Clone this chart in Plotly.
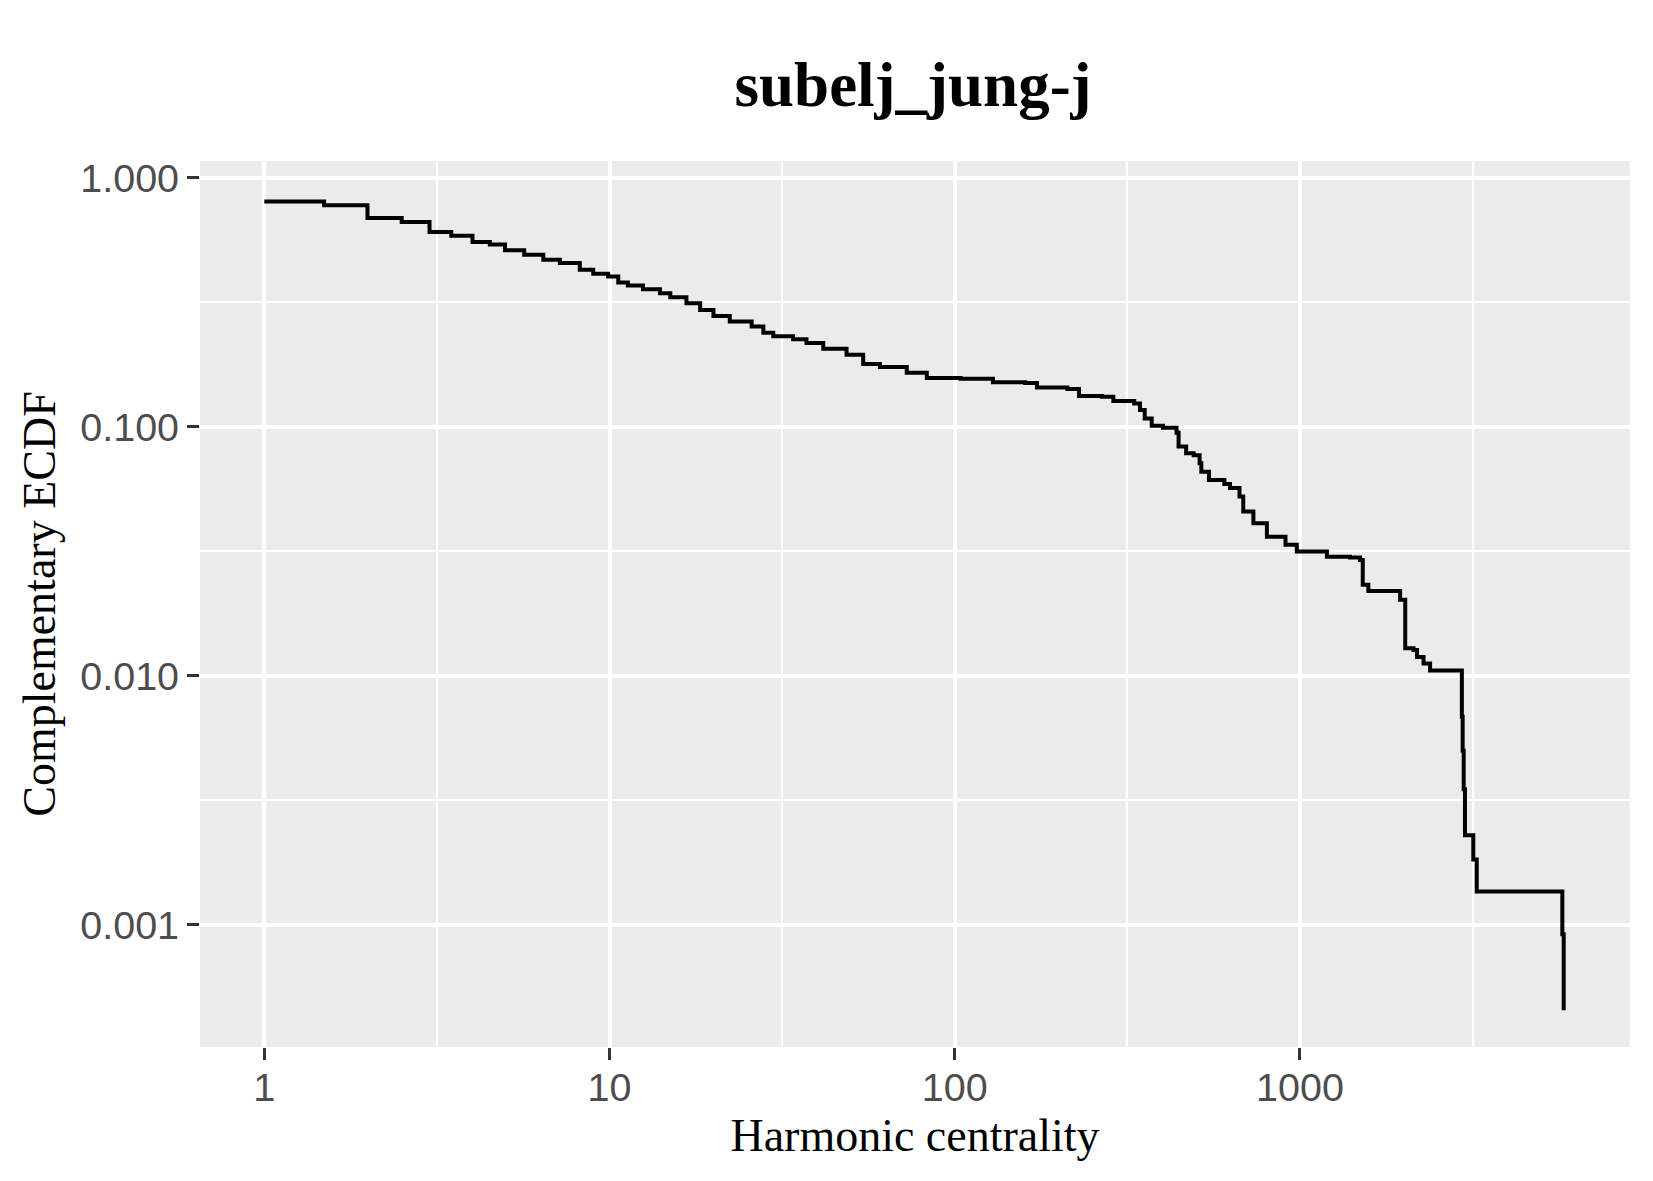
import plotly.graph_objects as go

# Complementary ECDF step levels:
# the curve takes level ccdf[i] from harmonic_centrality[i] onward ("hv" steps)
harmonic_centrality = [
    1.0, 1.49, 1.99, 2.50, 3.01, 3.48, 4.01, 4.50, 4.98, 5.66, 6.43,
    7.18, 8.20, 8.97, 9.91, 10.6, 11.3, 12.5, 14.0, 15.0, 16.7, 18.3, 20.0,
    22.3, 25.8, 27.9, 29.8, 34.0, 37.2, 41.6, 48.6, 54.3, 60.7, 72.6, 83.0,
    104, 129,
    160, 173, 212, 229, 267, 288, 331,
    344, 355, 372, 401, 439, 445, 468, 492, 512, 518, 545, 604, 627, 668, 685,
    733, 802, 908, 979, 1197, 1396, 1493, 1520, 1578, 1950, 2018, 2133,
    2183, 2280, 2382, 2944, 2960, 2980, 3006, 3177, 3251, 5754, 5807,
]
ccdf = [
    0.805, 0.776, 0.690, 0.665, 0.607, 0.586, 0.553, 0.540, 0.512, 0.491, 0.469,
    0.455, 0.428, 0.412, 0.402, 0.380, 0.370, 0.357, 0.344, 0.332, 0.314, 0.295,
    0.279, 0.265, 0.253, 0.239, 0.231, 0.225, 0.217, 0.206, 0.195, 0.179, 0.174,
    0.165, 0.157, 0.156, 0.151,
    0.150, 0.144, 0.142, 0.133, 0.132, 0.127, 0.124, 0.117, 0.108, 0.101, 0.0993,
    0.0948, 0.0834, 0.0783, 0.0769, 0.0715, 0.0661, 0.0612, 0.0590, 0.0568,
    0.0525, 0.0457, 0.0410, 0.0362, 0.0336, 0.0316, 0.0301, 0.0299, 0.0292,
    0.0232, 0.0219, 0.0202, 0.0129, 0.0127, 0.0119, 0.0112, 0.0105, 0.00685,
    0.0050, 0.0035, 0.00229, 0.00183, 0.00136, 0.000916, 0.000454,
]

x_tick_vals = [1, 10, 100, 1000]
x_tick_text = ["1", "10", "100", "1000"]
y_tick_vals = [1.0, 0.1, 0.01, 0.001]
y_tick_text = ["1.000", "0.100", "0.010", "0.001"]
x_minor_vals = [10 ** 0.5, 10 ** 1.5, 10 ** 2.5, 10 ** 3.5]
y_minor_vals = [10 ** -0.5, 10 ** -1.5, 10 ** -2.5]

fig = go.Figure()
fig.add_trace(go.Scatter(
    x=harmonic_centrality, y=ccdf, mode="lines",
    line=dict(color="black", width=4, shape="hv"),
    showlegend=False, hoverinfo="skip",
))

tick_font = dict(family="Liberation Sans, Arial, sans-serif", size=39.5, color="#4D4D4D")
title_font = dict(family="Liberation Serif, Times New Roman, serif", size=46, color="black")

fig.update_layout(
    width=1645, height=1173,
    paper_bgcolor="white", plot_bgcolor="#EBEBEB",
    margin=dict(l=192, r=23, t=153, b=134, autoexpand=False),
    title=dict(
        text="<b>subelj_jung-j</b>", x=0.5502, xanchor="center",
        y=1 - 75.5 / 1173, yanchor="middle", yref="container",
        font=dict(family="Liberation Serif, Times New Roman, serif", size=63, color="black"),
    ),
    xaxis=dict(
        type="log", range=[-0.1863, 3.956],
        tickmode="array", tickvals=x_tick_vals, ticktext=x_tick_text,
        showgrid=True, gridcolor="white", gridwidth=3.5,
        minor=dict(tickmode="array", tickvals=x_minor_vals, showgrid=True,
                   gridcolor="white", gridwidth=2, ticks=""),
        ticks="outside", ticklen=12, tickwidth=3, tickcolor="#333333",
        tickfont=tick_font, zeroline=False, showline=False,
        ticklabelstandoff=-6,
        title=dict(text="Harmonic centrality", font=title_font, standoff=10),
        automargin=False,
    ),
    yaxis=dict(
        type="log", range=[-3.491, 0.068],
        tickmode="array", tickvals=y_tick_vals, ticktext=y_tick_text,
        showgrid=True, gridcolor="white", gridwidth=3.5,
        minor=dict(tickmode="array", tickvals=y_minor_vals, showgrid=True,
                   gridcolor="white", gridwidth=2, ticks=""),
        ticks="outside", ticklen=12, tickwidth=3, tickcolor="#333333",
        tickfont=tick_font, zeroline=False, showline=False,
        title=dict(text="Complementary ECDF", font=title_font, standoff=10),
        automargin=False,
    ),
)

fig.write_html("out.html")
